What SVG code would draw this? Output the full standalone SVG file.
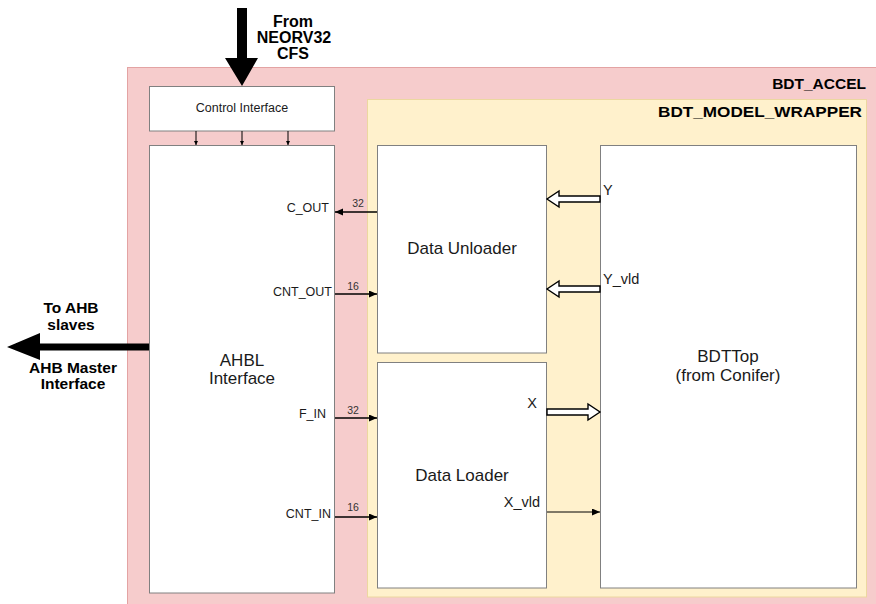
<svg xmlns="http://www.w3.org/2000/svg" width="876" height="604" viewBox="0 0 876 604">
<defs>
<style>
text{font-family:"Liberation Sans",Arial,sans-serif;fill:#1a1a1a}
.b{font-weight:bold;fill:#000}
.box{fill:#fff;stroke:#808080;stroke-width:1}
.lbl{font-size:17px;text-anchor:middle}
.port{font-size:12.5px;text-anchor:end}
.num{font-size:10.5px;fill:#333;text-anchor:middle}
.sig{font-size:14.5px}
.w{stroke:#000;stroke-width:1.5;fill:none}
.hollow{fill:#fff;stroke:#000;stroke-width:1.4;stroke-linejoin:miter}
</style>
<marker id="ah" markerUnits="userSpaceOnUse" markerWidth="9" markerHeight="8" refX="8" refY="3.5" orient="auto">
<path d="M0,0 L8,3.5 L0,7 z" fill="#000"/>
</marker>
<marker id="ahs" markerUnits="userSpaceOnUse" markerWidth="5" markerHeight="5" refX="4" refY="2" orient="auto">
<path d="M0,0 L4,2 L0,4 z" fill="#000"/>
</marker>
</defs>

<g id="bdt_accel">
<rect x="127.5" y="67.5" width="760" height="550" fill="#f6cccc" stroke="#e3a3a3" stroke-width="1"/>
<text class="b" x="866" y="89" font-size="15.5" text-anchor="end">BDT_ACCEL</text>
</g>

<g id="bdt_model_wrapper">
<rect x="367.5" y="99.5" width="499" height="497.5" fill="#fff1cc" stroke="#ecd7a0" stroke-width="1"/>
<text class="b" x="862" y="117" font-size="15.5" text-anchor="end" textLength="204" lengthAdjust="spacingAndGlyphs">BDT_MODEL_WRAPPER</text>
</g>

<g id="control_interface">
<rect class="box" x="149.5" y="86.5" width="185" height="44.5"/>
<text x="242" y="112" font-size="12.5" text-anchor="middle">Control Interface</text>
</g>

<g id="ahbl_interface">
<rect class="box" x="149.5" y="145.5" width="185" height="447.5"/>
<text class="lbl" x="242" y="366">AHBL</text>
<text class="lbl" x="242" y="384">Interface</text>
<text class="port" x="329" y="212">C_OUT</text>
<text class="port" x="332" y="296">CNT_OUT</text>
<text class="port" x="326" y="418">F_IN</text>
<text class="port" x="331" y="518">CNT_IN</text>
</g>

<g id="data_unloader">
<rect class="box" x="377.5" y="145.5" width="169" height="207.5"/>
<text class="lbl" x="462" y="254">Data Unloader</text>
</g>

<g id="data_loader">
<rect class="box" x="377.5" y="362.5" width="169" height="225.5"/>
<text class="lbl" x="462" y="481">Data Loader</text>
<text class="sig" x="537" y="408" text-anchor="end">X</text>
<text class="sig" x="540" y="507" text-anchor="end">X_vld</text>
</g>

<g id="bdttop">
<rect class="box" x="600.5" y="145.5" width="256" height="442.5"/>
<text class="lbl" x="728" y="362">BDTTop</text>
<text class="lbl" x="728" y="381">(from Conifer)</text>
<text class="sig" x="603" y="195">Y</text>
<text class="sig" x="603" y="284">Y_vld</text>
</g>

<g id="external_labels">
<text class="b" font-size="16" text-anchor="middle" x="293" y="27">From</text>
<text class="b" font-size="16" text-anchor="middle" x="294" y="43">NEORV32</text>
<text class="b" font-size="16" text-anchor="middle" x="293" y="59">CFS</text>
<text class="b" font-size="15.5" text-anchor="middle" x="71" y="313">To AHB</text>
<text class="b" font-size="15.5" text-anchor="middle" x="71" y="330">slaves</text>
<text class="b" font-size="15.5" text-anchor="middle" x="73" y="373">AHB Master</text>
<text class="b" font-size="15.5" text-anchor="middle" x="73" y="389">Interface</text>
</g>

<g id="connectors">
<path d="M237,8 H247 V58 H258 L242,86 L225,58 H237 Z" fill="#000"/>
<path d="M149,343.5 V350.5 H40 V360 L7,347 L40,333 V343.5 Z" fill="#000"/>
<line x1="196" y1="131" x2="196" y2="145" stroke="#000" stroke-width="1" marker-end="url(#ahs)"/>
<line x1="242" y1="131" x2="242" y2="145" stroke="#000" stroke-width="1" marker-end="url(#ahs)"/>
<line x1="288" y1="131" x2="288" y2="145" stroke="#000" stroke-width="1" marker-end="url(#ahs)"/>
<line class="w" x1="377" y1="212" x2="335" y2="212" marker-end="url(#ah)"/>
<text class="num" x="358" y="207">32</text>
<line class="w" x1="335" y1="294" x2="377" y2="294" marker-end="url(#ah)"/>
<text class="num" x="353" y="290">16</text>
<line class="w" x1="335" y1="418" x2="377" y2="418" marker-end="url(#ah)"/>
<text class="num" x="353" y="414">32</text>
<line class="w" x1="335" y1="517" x2="377" y2="517" marker-end="url(#ah)"/>
<text class="num" x="353" y="511">16</text>
<path class="hollow" d="M600,196 V202 H559 V207 L547,199 L559,191 V196 Z"/>
<path class="hollow" d="M600,286 V292 H559 V297 L547,289 L559,281 V286 Z"/>
<path class="hollow" d="M547,409 V415 H588 V420 L600,412 L588,404 V409 Z"/>
<line x1="547" y1="512" x2="600" y2="512" stroke="#000" stroke-width="1" marker-end="url(#ah)"/>
</g>
</svg>
